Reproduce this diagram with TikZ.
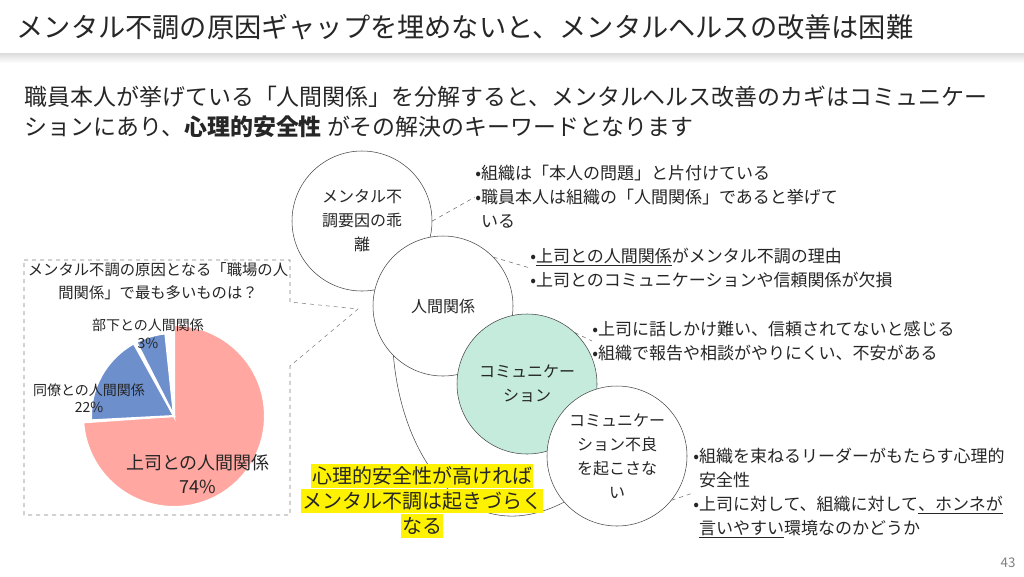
\documentclass[tikz,border=0pt]{standalone}
\usepackage{fontspec}
\setmainfont{Noto Sans CJK JP}
\usetikzlibrary{positioning}
\definecolor{ink}{RGB}{38,38,38}
\definecolor{piepink}{RGB}{255,167,160}
\definecolor{pieblue}{RGB}{109,143,204}
\definecolor{mint}{RGB}{196,235,220}
\definecolor{lineg}{RGB}{110,110,110}
\newcommand{\fsz}[2]{\fontsize{#1}{#2}\selectfont}

\begin{document}
\begin{tikzpicture}[x=0.75pt,y=-0.75pt,
  every node/.style={text=ink},
  bubble/.style={circle,draw=ink!85,fill=white,minimum size=105pt,inner sep=0pt,align=center,font=\fsz{12}{18}},
  note/.style={anchor=west,inner sep=0pt,align=left,font=\fsz{12.75}{18}},
  link/.style={draw=lineg,dashed,thin},
  hlbox/.style={fill=yellow,inner xsep=1pt,inner ysep=0pt,minimum height=18.4pt,font=\fsz{15}{18}},
  slice/.style={draw=white,line width=1.5pt}]

\useasboundingbox (0,0) rectangle (1024,576);
\fill[white] (0,0) rectangle (1024,576);
\shade[top color=black!14,bottom color=white] (0,53) rectangle (1024,63);
\fill[white] (0,0) rectangle (1024,53);

\node[anchor=west,font=\fsz{20.4}{24}] (title) at (12,27) {メンタル不調の原因ギャップを埋めないと、メンタルヘルスの改善は困難};
\node[anchor=west,align=left,font=\fsz{17.2}{22.5}] (lead) at (20,112) {職員本人が挙げている「人間関係」を分解すると、メンタルヘルス改善のカギはコミュニケー\\ションにあり、{\bfseries 心理的安全性} がその解決のキーワードとなります};

% pie
\coordinate (pc) at (174,416);
\fill[piepink,slice] (pc) -- ++(-90:91) arc[start angle=-90,end angle=176,radius=91] -- cycle;
\begin{scope}[shift={(-151:5)}]
\fill[pieblue,slice] (pc) -- ++(-119:83) arc[start angle=-119,end angle=-183,radius=83] -- cycle;
\end{scope}
\begin{scope}[shift={(-106:6)}]
\fill[pieblue,slice] (pc) -- ++(-96:83) arc[start angle=-96,end angle=-117,radius=83] -- cycle;
\end{scope}
\node[align=center,font=\fsz{11.5}{17.25}] (pietitle) at (158,281.5) {メンタル不調の原因となる「職場の人\\間関係」で最も多いものは？};
\node[align=center,font=\fsz{10.5}{13.5}] (lsub) at (148,334) {部下との人間関係\\3\%};
\node[align=center,font=\fsz{10.5}{13}] (lpeer) at (89,398.5) {同僚との人間関係\\22\%};
\node[align=center,font=\fsz{13.5}{18}] (lboss) at (198,474) {上司との人間関係\\74\%};

\coordinate (tip) at (358,309);
\draw[link,draw=gray] (24,260) -- (290,260) -- (290,302) -- (tip) -- (290,366) -- (290,515) -- (24,515) -- cycle;

% circles
\draw[ink!85] (393,350) .. controls (400,460) and (470,560) .. (575,496);
\node[bubble] (gap) at (362,221) {メンタル不\\調要因の乖\\離};
\node[bubble] (rel) at (443,306) {人間関係};
\node[bubble,fill=mint] (comm) at (527,384) {コミュニケー\\ション};
\node[bubble] (nobad) at (617,456) {コミュニケー\\ション不良\\を起こさな\\い};

\node[hlbox] (hl1) at (422,476) {心理的安全性が高ければ};
\node[hlbox,below=0pt of hl1] (hl2) {メンタル不調は起きづらく};
\node[hlbox,below=0pt of hl2] (hl3) {なる};

% notes
\node[note] (ngap) at (475,197) {•組織は「本人の問題」と片付けている\\•職員本人は組織の「人間関係」であると挙げて\\\hphantom{•}いる};
\node[note] (nrel) at (530,268) {•\underline{上司との人間関係}がメンタル不調の理由\\•上司とのコミュニケーションや信頼関係が欠損};
\node[note] (ncomm) at (592,341) {•上司に話しかけ難い、信頼されてないと感じる\\•組織で報告や相談がやりにくい、不安がある};
\node[note] (nbad) at (693,493) {•組織を束ねるリーダーがもたらす心理的\\\hphantom{•}安全性\\•上司に対して、組織に対して\underline{、ホンネが}\\\hphantom{•}\underline{言いやすい}環境なのかどうか};

\draw[link] (gap.0) -- (ngap.west);
\draw[link] (rel.44) -- (nrel.west);
\draw[link] (comm.47) -- (ncomm.west);
\draw[link] (nobad.-39) -- (nbad.west);

\node[text=gray,font=\fsz{10}{12}] (pnum) at (1008,563) {43};

\end{tikzpicture}
\end{document}
